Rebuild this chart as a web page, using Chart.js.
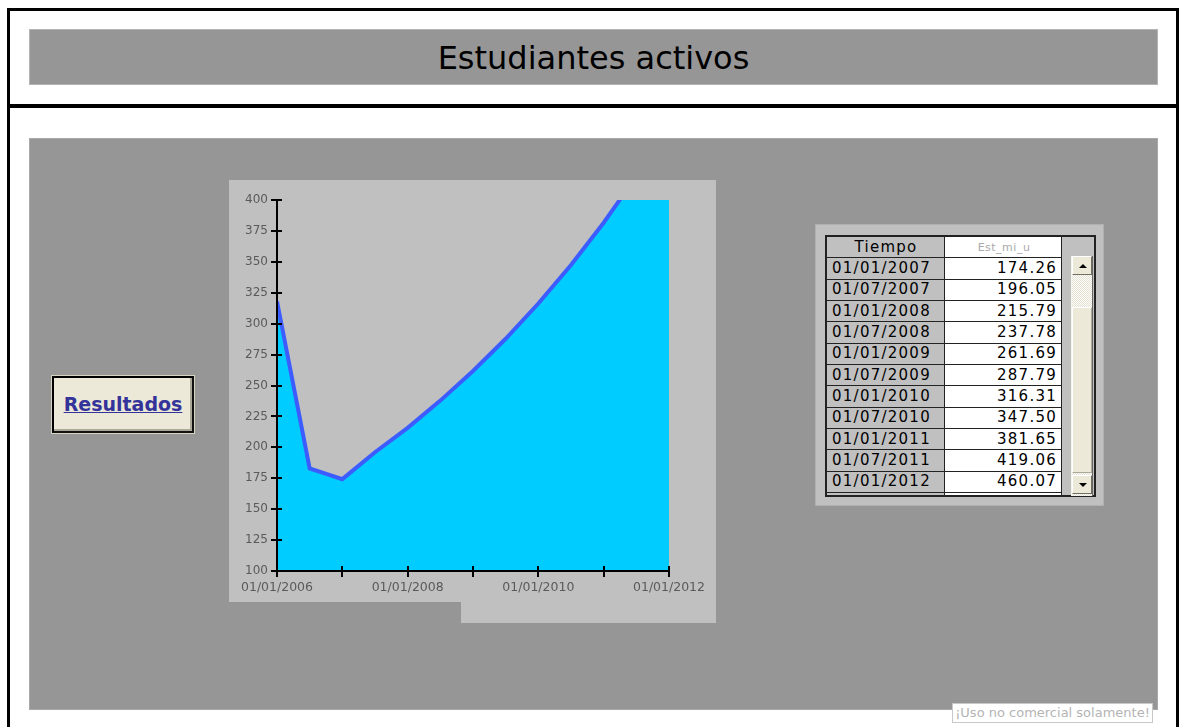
<!DOCTYPE html>
<html lang="es">
<head>
<meta charset="utf-8">
<title>Estudiantes activos</title>
<script src="https://cdn.jsdelivr.net/npm/chart.js"></script>
<style>
    html, body {
        margin: 0;
        padding: 0;
        width: 1181px;
        height: 727px;
        overflow: hidden;
        background: #fff;
        font-family: "DejaVu Sans", Verdana, sans-serif;
    }
    .abs { position: absolute; box-sizing: border-box; }
    #marco {
        left: 7px; top: 8px; width: 1172px; height: 800px;
        border: 3px solid #000;
    }
    #separador { left: 7px; top: 104px; width: 1172px; height: 4px; background: #000; }
    #cabecera {
        left: 29px; top: 29px; width: 1129px; height: 56px;
        background: #969696; border: 1px solid #b4b4b4;
        text-align: center; line-height: 56px;
        font-size: 32px; color: #000;
    }
    #panel { left: 29px; top: 138px; width: 1129px; height: 572px; background: #969696; border: 1px solid #a8a8a8; }
    #fondoGrafico {
        left: 229px; top: 180px; width: 487px; height: 443px;
        background: #c0c0c0;
        clip-path: polygon(0 0, 487px 0, 487px 443px, 232px 443px, 232px 422px, 0 422px);
    }
    #grafico { left: 229px; top: 180px; }
    #boton {
        left: 52px; top: 376px; width: 142px; height: 57px;
        background: #ece9d8; border: 2px solid #000;
        border-right-color: #111; border-bottom-color: #111;
        box-shadow: 0 0 0 1px #d8d4c4, inset -2px -2px 0 #aca899;
        text-align: center; line-height: 52px;
        font-size: 19px; font-weight: bold; color: #33339a;
        text-decoration: underline;
    }
    #fondoTabla { left: 815px; top: 224px; width: 289px; height: 282px; background: #c0c0c0; border: 1px solid #b0b0b0; }
    #tabla {
        left: 825px; top: 235px; width: 271px; height: 262px;
        border: 2px solid #222; background: #c0c0c0; overflow: hidden;
    }
    #tabla table { border-collapse: collapse; table-layout: fixed; margin-left: -2px; margin-top: -1px; }
    #tabla td {
        height: 20.35px; padding: 0 4px 0 6px; border: 1px solid #222;
        font-size: 15px; letter-spacing: 1.25px; color: #000;
        white-space: nowrap; overflow: hidden; line-height: 19px;
    }
    #tabla td.fecha { background: #c0c0c0; width: 108px; text-align: left; }
    #tabla td.valor { background: #fff; width: 106px; text-align: right; }
    #tabla td.titulo { text-align: center; background: #c0c0c0; }
    #tabla td.tituloValor { text-align: center; background: #fff; font-size: 11px; color: #aaa; letter-spacing: 0.5px; }
    #barra {
        left: 1071px; top: 256px; width: 22px; height: 240px;
        background-color: #ece9d8;
        background-image: repeating-conic-gradient(#fdfdfb 0 25%, #e4e1d3 0 50%);
        background-size: 2px 2px;
        border-left: 1px solid #f4f3ee; border-right: 1px solid #666;
    }
    .btnBarra {
        left: 1072px; width: 20px; height: 19px;
        background: #ece9d8; border: 1px solid; border-color: #fff #716f64 #716f64 #fff;
    }
    #pulgar { left: 1072px; top: 307px; width: 20px; height: 166px; background: #ece9d8; border: 1px solid; border-color: #fff #aca899 #aca899 #fff; }
    .flecha { left: 6px; width: 0; height: 0; border-left: 4px solid transparent; border-right: 4px solid transparent; }
    #aviso {
        left: 952px; top: 703px; width: 201px; height: 20px;
        background: #fff; border: 1px solid #c8c8c8;
        font-size: 13px; line-height: 18px; color: #b4b4b4; text-align: center;
    }
</style>
</head>
<body>
<div class="abs" id="marco"></div>
<div class="abs" id="separador"></div>
<div class="abs" id="cabecera">Estudiantes activos</div>
<div class="abs" id="panel"></div>
<div class="abs" id="fondoGrafico"></div>
<canvas class="abs" id="grafico" width="487" height="443"></canvas>
<div class="abs" id="boton">Resultados</div>
<div class="abs" id="fondoTabla"></div>
<div class="abs" id="tabla"><table id="cuerpoTabla"></table></div>
<div class="abs" id="barra"></div>
<div class="abs" id="pulgar"></div>
<div class="abs btnBarra" style="top:256px"><div class="abs flecha" style="top:7px;border-bottom:4px solid #000"></div></div>
<div class="abs btnBarra" style="top:475px"><div class="abs flecha" style="top:7px;border-top:4px solid #000"></div></div>
<div class="abs" id="aviso">¡Uso no comercial solamente!</div>

<script>
// Semestral series of active students
const fechas = ['01/01/2006', '01/07/2006', '01/01/2007', '01/07/2007', '01/01/2008', '01/07/2008',
    '01/01/2009', '01/07/2009', '01/01/2010', '01/07/2010', '01/01/2011', '01/07/2011', '01/01/2012'];
const estudiantes = [318, 183, 174.26, 196.05, 215.79, 237.78, 261.69, 287.79, 316.31, 347.50, 381.65, 419.06, 460.07];

// Axis ticks
const ticksY = [100, 125, 150, 175, 200, 225, 250, 275, 300, 325, 350, 375, 400];
const etiquetasX = ['01/01/2006', '', '01/01/2008', '', '01/01/2010', '', '01/01/2012'];

// First visible row of the grid (the grid is scrolled down)
const primeraFila = 2;

// Months elapsed since 01/01/2006
function aMeses(fecha) {
    const partes = fecha.split('/');
    return (parseInt(partes[2], 10) - 2006) * 12 + parseInt(partes[1], 10) - 1;
}

// Fill the data grid
function llenarTabla() {
    const tabla = document.getElementById('cuerpoTabla');
    let html = '<tr><td class="fecha titulo">Tiempo</td><td class="valor tituloValor">Est_mi_u</td></tr>';
    for (let i = primeraFila; i < fechas.length; i++) {
        html += '<tr><td class="fecha">' + fechas[i] + '</td><td class="valor">' + estudiantes[i].toFixed(2) + '</td></tr>';
    }
    html += '<tr><td class="fecha"></td><td class="valor"></td></tr>';
    tabla.innerHTML = html;
}

// Axis lines with ticks crossing them
const ejes = {
    id: 'ejes',
    afterDatasetsDraw(chart) {
        const ctx = chart.ctx;
        const area = chart.chartArea;
        const x = chart.scales.x;
        const y = chart.scales.y;
        ctx.save();
        ctx.strokeStyle = '#000';
        ctx.lineWidth = 2;
        ctx.beginPath();
        ctx.moveTo(area.left, area.top);
        ctx.lineTo(area.left, area.bottom);
        ctx.lineTo(area.right, area.bottom);
        y.ticks.forEach(t => {
            const py = Math.round(y.getPixelForValue(t.value));
            ctx.moveTo(area.left - 6, py);
            ctx.lineTo(area.left + 5, py);
        });
        x.ticks.forEach(t => {
            const px = Math.round(x.getPixelForValue(t.value));
            ctx.moveTo(px, area.bottom - 5);
            ctx.lineTo(px, area.bottom + 6);
        });
        ctx.stroke();
        ctx.restore();
    }
};

function dibujarGrafico() {
    const ctx = document.getElementById('grafico').getContext('2d');
    new Chart(ctx, {
        type: 'line',
        data: {
            datasets: [{
                data: fechas.map((f, i) => ({ x: aMeses(f), y: estudiantes[i] })),
                borderColor: '#3d5cff',
                backgroundColor: '#00ccff',
                borderWidth: 4,
                pointRadius: 0,
                tension: 0,
                fill: 'start',
                clip: 0
            }]
        },
        options: {
            responsive: false,
            animation: false,
            devicePixelRatio: 1,
            layout: { padding: { left: 0, top: 20, right: 47, bottom: 0 } },
            plugins: {
                legend: { display: false },
                tooltip: { enabled: false }
            },
            scales: {
                x: {
                    type: 'linear',
                    min: aMeses(etiquetasX[0]),
                    max: aMeses(etiquetasX[etiquetasX.length - 1]),
                    afterFit: function(scale) { scale.height = 52; },
                    grid: { display: false, drawTicks: false },
                    border: { display: false },
                    ticks: {
                        stepSize: 12,
                        autoSkip: false,
                        maxRotation: 0,
                        padding: 9,
                        color: '#5a5a5a',
                        font: { family: 'DejaVu Sans', size: 12.5 },
                        callback: function(value) {
                            return etiquetasX[Math.round(value / 12)];
                        }
                    }
                },
                y: {
                    min: ticksY[0],
                    max: ticksY[ticksY.length - 1],
                    afterFit: function(scale) { scale.width = 48; },
                    grid: { display: false, drawTicks: false },
                    border: { display: false },
                    ticks: {
                        stepSize: ticksY[1] - ticksY[0],
                        padding: 9,
                        color: '#5a5a5a',
                        font: { family: 'DejaVu Sans', size: 12 }
                    }
                }
            }
        },
        plugins: [ejes]
    });
}

llenarTabla();
dibujarGrafico();
</script>
</body>
</html>
